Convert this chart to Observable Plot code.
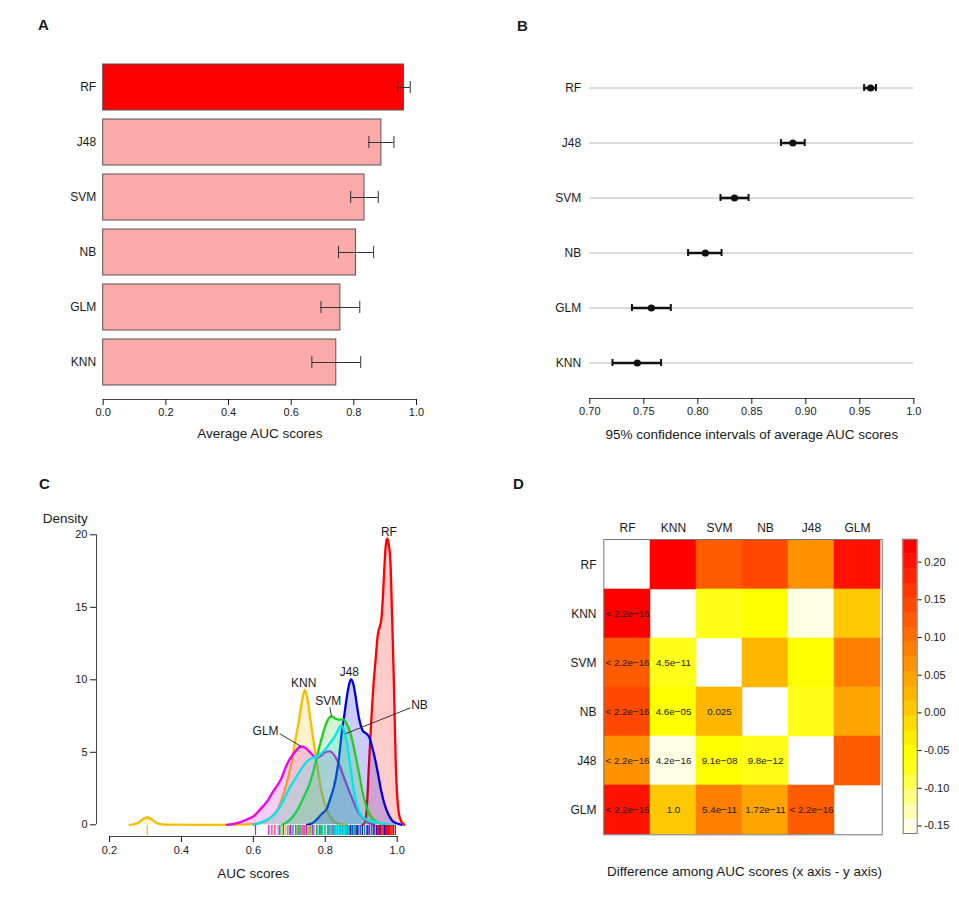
<!DOCTYPE html>
<html>
<head>
<meta charset="utf-8">
<script src="https://cdn.jsdelivr.net/npm/d3@7"></script>
<script src="https://cdn.jsdelivr.net/npm/@observablehq/plot@0.6"></script>
<style>
  body { margin: 0; background: #fff; }
  #fig { position: relative; width: 959px; height: 911px; background: #fff; overflow: hidden;
         font-family: "Liberation Sans", Arial, Helvetica, sans-serif; color: #1a1a1a; }
  #fig > svg { position: absolute; }
  .tag { position: absolute; font-weight: bold; font-size: 15px; line-height: 16px; }
</style>
</head>
<body>
<div id="fig"></div>
<script>
// ---------- classifier summaries (panels A and B) ----------
const models   = ["RF", "J48", "SVM", "NB", "GLM", "KNN"];
const meanAUC  = [0.960, 0.888, 0.834, 0.807, 0.757, 0.744];
const sdAUC    = [0.020, 0.040, 0.044, 0.056, 0.062, 0.078];
const ciLow    = [0.954, 0.877, 0.821, 0.791, 0.739, 0.721];
const ciHigh   = [0.965, 0.899, 0.847, 0.822, 0.775, 0.766];
const ticksA   = [0, 0.2, 0.4, 0.6, 0.8, 1.0];
const ticksB   = [0.70, 0.75, 0.80, 0.85, 0.90, 0.95, 1.0];
const tickLabelsB = ["0.70", "0.75", "0.80", "0.85", "0.90", "0.95", "1.0"];

// ---------- AUC density curves (panel C): [AUC, density] ----------
const densKNN = [[0.256,0],[0.275,0.08],[0.29,0.33],[0.305,0.52],[0.32,0.33],[0.335,0.08],[0.355,0.01],[0.45,0],[0.55,0.01],[0.60,0.05],[0.63,0.2],[0.652,0.6],[0.666,1.0],[0.685,2.2],[0.70,3.6],[0.708,4.5],[0.715,5.6],[0.727,7.2],[0.735,8.5],[0.743,9.3],[0.751,8.6],[0.759,7.2],[0.766,6.0],[0.773,4.9],[0.787,2.6],[0.805,1.0],[0.82,0.35],[0.84,0.05],[0.86,0]];
const densGLM = [[0.527,0],[0.56,0.15],[0.585,0.4],[0.601,0.6],[0.62,1.1],[0.638,1.6],[0.655,2.3],[0.676,3.1],[0.694,4.2],[0.703,4.6],[0.718,5.1],[0.733,5.4],[0.745,5.3],[0.754,5.1],[0.765,4.8],[0.776,4.62],[0.79,4.8],[0.80,5.0],[0.812,5.06],[0.825,4.8],[0.838,4.2],[0.85,3.4],[0.862,2.6],[0.875,1.8],[0.885,1.2],[0.897,0.7],[0.908,0.4],[0.92,0.15],[0.936,0]];
const densRF  = [[0.903,0],[0.911,0.2],[0.915,1.0],[0.921,3.9],[0.927,6.8],[0.933,9.3],[0.9397,11.3],[0.946,13.1],[0.952,13.7],[0.956,14.2],[0.96,15.6],[0.964,17.6],[0.968,19.2],[0.972,19.75],[0.976,19.4],[0.981,18.2],[0.986,14.2],[0.9907,9.9],[0.996,4.2],[1.0005,1.8],[1.0046,0.8],[1.011,0.25],[1.02,0]];
const densJ48 = [[0.749,0],[0.765,0.12],[0.778,0.4],[0.79,0.75],[0.805,1.15],[0.815,1.9],[0.824,2.6],[0.832,3.6],[0.838,4.6],[0.847,6.6],[0.852,7.4],[0.858,8.5],[0.864,9.4],[0.871,10.02],[0.878,9.7],[0.884,8.9],[0.89,7.9],[0.896,7.1],[0.904,6.5],[0.916,6.25],[0.922,6.05],[0.93,5.4],[0.937,4.7],[0.946,3.6],[0.955,2.4],[0.965,1.4],[0.975,0.75],[0.99,0.2],[1.012,0]];
const densSVM = [[0.68,0],[0.70,0.3],[0.722,1.0],[0.74,1.9],[0.756,2.8],[0.768,3.8],[0.777,4.7],[0.787,5.7],[0.80,6.8],[0.81,7.35],[0.817,7.48],[0.826,7.35],[0.838,7.25],[0.85,7.27],[0.86,6.95],[0.87,6.3],[0.884,4.8],[0.895,3.4],[0.905,2.1],[0.915,1.2],[0.925,0.65],[0.94,0.25],[0.955,0.08],[0.965,0]];
const densNB  = [[0.601,0],[0.625,0.2],[0.648,0.5],[0.665,0.9],[0.684,1.7],[0.70,2.5],[0.722,3.4],[0.737,4.0],[0.75,4.4],[0.763,4.6],[0.777,4.7],[0.79,4.95],[0.80,5.2],[0.812,5.6],[0.824,6.0],[0.835,6.5],[0.844,6.85],[0.852,6.5],[0.861,5.5],[0.870,4.0],[0.88,2.3],[0.89,1.2],[0.90,0.65],[0.915,0.35],[0.94,0.18],[0.965,0.07],[0.99,0]];

// individual AUC scores shown as a rug under the curves
const rugKNN = [0.305,0.652,0.668,0.681,0.69,0.70,0.706,0.712,0.718,0.722,0.727,0.731,0.735,0.738,0.741,0.744,0.747,0.75,0.753,0.757,0.762,0.768,0.775,0.785,0.80,0.82];
const rugGLM = [0.606,0.643,0.651,0.66,0.672,0.684,0.695,0.703,0.71,0.718,0.725,0.73,0.735,0.741,0.748,0.756,0.765,0.776,0.79,0.80,0.808,0.813,0.819,0.826,0.834,0.845,0.858,0.872,0.89];
const rugRF  = [0.918,0.93,0.938,0.944,0.948,0.952,0.955,0.958,0.961,0.964,0.966,0.968,0.97,0.972,0.974,0.976,0.978,0.98,0.983,0.986,0.99,0.995];
const rugJ48 = [0.785,0.808,0.822,0.832,0.841,0.848,0.854,0.859,0.863,0.867,0.87,0.873,0.876,0.879,0.882,0.886,0.891,0.897,0.903,0.909,0.916,0.922,0.928,0.935,0.943,0.952,0.965];
const rugSVM = [0.70,0.726,0.745,0.758,0.768,0.777,0.785,0.792,0.799,0.806,0.812,0.817,0.822,0.828,0.834,0.84,0.846,0.852,0.858,0.865,0.873,0.882,0.895,0.91];
const rugNB  = [0.65,0.676,0.695,0.71,0.722,0.733,0.745,0.756,0.768,0.78,0.791,0.80,0.81,0.818,0.825,0.831,0.836,0.841,0.845,0.849,0.853,0.858,0.866,0.878,0.895,0.93];

// ---------- pairwise comparison (panel D) ----------
const heatOrder = ["RF", "KNN", "SVM", "NB", "J48", "GLM"];
// lower triangle, row by row from KNN: difference (column model - row model)
const diffLower = [
  [0.215],
  [0.125, -0.080],
  [0.150, -0.062, 0.027],
  [0.072, -0.143, -0.053, -0.075],
  [0.203, -0.002, 0.078, 0.050, 0.131]
];
const pLower = [
  ["< 2.2e\u221216"],
  ["< 2.2e\u221216", "4.5e\u221211"],
  ["< 2.2e\u221216", "4.6e\u221205", "0.025"],
  ["< 2.2e\u221216", "4.2e\u221216", "9.1e\u221208", "9.8e\u221212"],
  ["< 2.2e\u221216", "1.0", "5.4e\u221211", "1.72e\u221211", "< 2.2e\u221216"]
];
const barTicks = [-0.15, -0.10, -0.05, 0.00, 0.05, 0.10, 0.15, 0.20];

// ---------- styling ----------
const font = "'Liberation Sans', Arial, Helvetica, sans-serif";
const baseStyle = {fontFamily: font, fontSize: "11px", color: "#1a1a1a", background: "transparent", overflow: "visible"};
const lineColor = {RF: "#FF0000", J48: "#0000E6", SVM: "#22CC22", NB: "#00E5EE", GLM: "#EE00EE", KNN: "#F5BE00"};
const drawOrder = ["KNN", "GLM", "RF", "J48", "SVM", "NB"];
const curves = {KNN: densKNN, GLM: densGLM, RF: densRF, J48: densJ48, SVM: densSVM, NB: densNB};
const rugs   = {KNN: rugKNN, GLM: rugGLM, RF: rugRF, J48: rugJ48, SVM: rugSVM, NB: rugNB};
// heat palette, low (pale) to high (red), 20 equal bins
const heatLo = -0.16, heatHi = 0.23, heatBins = 20;
const heatPalette = ["#FFFFE6","#FFFFB3","#FFFF80","#FFFF4D","#FFFF1A","#FFFF00","#FFED00","#FFDB00","#FFC800","#FFB600",
                     "#FFA400","#FF9200","#FF8000","#FF6D00","#FF5B00","#FF4900","#FF3600","#FF2400","#FF1200","#FF0000"];
const heatStep = (heatHi - heatLo) / heatBins;
const heatThresholds = d3.range(1, heatBins).map(i => heatLo + i * heatStep);
const heatColor = {type: "threshold", domain: heatThresholds, range: heatPalette};

const fig = document.getElementById("fig");
function place(svg, left, top) { svg.style.left = left + "px"; svg.style.top = top + "px"; fig.appendChild(svg); }
function tag(text, left, top) { const d = document.createElement("div"); d.className = "tag"; d.textContent = text;
  d.style.left = left + "px"; d.style.top = top + "px"; fig.appendChild(d); }

const rows = models.map((m, i) => ({model: m, mean: meanAUC[i], lo: meanAUC[i] - sdAUC[i], hi: meanAUC[i] + sdAUC[i],
  ciLo: ciLow[i], ciHi: ciHigh[i]}));
const best = models[d3.maxIndex(meanAUC)];

// ---------- A: average AUC with error bars ----------
const panelA = Plot.plot({
  width: 480, height: 460,
  marginLeft: 102.7, marginRight: 64, marginTop: 50, marginBottom: 61,
  style: baseStyle,
  x: {domain: [0, 1]},
  y: {type: "band", domain: models, range: [53.4, 395.6], padding: 0.168},
  marks: [
    Plot.barX(rows, {filter: d => d.model === best, x: "mean", y: "model", fill: "#FF0000", stroke: "#555", strokeWidth: 1}),
    Plot.barX(rows, {filter: d => d.model !== best, x: "mean", y: "model", fill: "#FBAAAA", stroke: "#555", strokeWidth: 1}),
    Plot.ruleY(rows, {y: "model", x1: "lo", x2: "hi", stroke: "#333", strokeWidth: 1}),
    Plot.tickX(rows, {x: "lo", y: "model", stroke: "#333", strokeWidth: 1, insetTop: 17, insetBottom: 17}),
    Plot.tickX(rows, {x: "hi", y: "model", stroke: "#333", strokeWidth: 1, insetTop: 17, insetBottom: 17}),
    Plot.frame({anchor: "bottom", stroke: "#444"}),
    Plot.axisX({ticks: ticksA, tickFormat: d3.format(".1f"), tickSize: 6, tickPadding: 3, label: null, fontSize: 11}),
    Plot.axisY({tickSize: 0, tickPadding: 7, label: null, fontSize: 12}),
    Plot.text(["Average AUC scores"], {frameAnchor: "bottom", dy: 38, fontSize: 13.5})
  ]
});
place(panelA, 0, 0);

// ---------- B: 95% confidence intervals ----------
const panelB = Plot.plot({
  width: 479, height: 460,
  marginLeft: 109.3, marginRight: 45.7, marginTop: 50, marginBottom: 62,
  style: baseStyle,
  x: {domain: [0.70, 1.0]},
  y: {type: "band", domain: models, range: [59.15, 389.85], padding: 0},
  marks: [
    Plot.ruleY(rows, {y: "model", stroke: "#b8b8b8", strokeWidth: 1}),
    Plot.ruleY(rows, {y: "model", x1: "ciLo", x2: "ciHi", stroke: "#111", strokeWidth: 2.6}),
    Plot.tickX(rows, {x: "ciLo", y: "model", stroke: "#111", strokeWidth: 2, insetTop: 24, insetBottom: 24}),
    Plot.tickX(rows, {x: "ciHi", y: "model", stroke: "#111", strokeWidth: 2, insetTop: 24, insetBottom: 24}),
    Plot.dot(rows, {x: "mean", y: "model", r: 3.6, fill: "#111"}),
    Plot.frame({anchor: "bottom", stroke: "#444"}),
    Plot.axisX({ticks: ticksB, tickFormat: d => tickLabelsB[ticksB.indexOf(d)], tickSize: 6, tickPadding: 3, label: null, fontSize: 11}),
    Plot.axisY({tickSize: 0, tickPadding: 8.6, label: null, fontSize: 12}),
    Plot.text(["95% confidence intervals of average AUC scores"], {frameAnchor: "bottom", dy: 40, fontSize: 13.5})
  ]
});
place(panelB, 480, 0);

// ---------- C: density of AUC scores ----------
const curveNotes = [
  {model: "RF",  x: 0.977, y: 20.2},
  {model: "J48", x: 0.867, y: 10.55},
  {model: "KNN", x: 0.740, y: 9.75},
  {model: "SVM", x: 0.808, y: 8.5},
  {model: "NB",  x: 1.062, y: 8.25},
  {model: "GLM", x: 0.634, y: 6.45}
];
const leaders = [
  {x1: 0.6736, y1: 6.28, x2: 0.733, y2: 5.4},
  {x1: 0.8126, y1: 8.11, x2: 0.8173, y2: 7.47},
  {x1: 1.037,  y1: 8.07, x2: 0.8563, y2: 6.28}
];
const curveMarks = drawOrder.flatMap(m => [
  Plot.areaY(curves[m], {x: d => d[0], y: d => d[1], fill: lineColor[m], fillOpacity: 0.2, curve: "monotone-x"}),
  Plot.lineY(curves[m], {x: d => d[0], y: d => d[1], stroke: lineColor[m], strokeWidth: 2.3, curve: "monotone-x"})
]);
const rugMarks = drawOrder.map(m =>
  Plot.ruleX(rugs[m], {x: d => d, stroke: lineColor[m], strokeWidth: 1.2, insetTop: 350, insetBottom: 1})
);
const panelC = Plot.plot({
  width: 480, height: 456,
  marginLeft: 109, marginRight: 83.3, marginTop: 20, marginBottom: 75,
  style: baseStyle,
  x: {domain: [0.2, 1.0]},
  y: {domain: [0, 20], range: [369.3, 79.3]},
  marks: [
    ...curveMarks,
    ...rugMarks,
    Plot.link(leaders, {x1: "x1", y1: "y1", x2: "x2", y2: "y2", stroke: "#333", strokeWidth: 1}),
    Plot.text(curveNotes, {x: "x", y: "y", text: "model", fontSize: 12, fill: "#1a1a1a"}),
    Plot.frame({anchor: "bottom", stroke: "#444"}),
    Plot.axisX({ticks: [0.2, 0.4, 0.6, 0.8, 1.0], tickFormat: d3.format(".1f"), tickSize: 6, tickPadding: 4, label: null, fontSize: 11}),
    Plot.ruleX([0.2], {y1: 0, y2: 20, dx: -13, stroke: "#444"}),
    Plot.axisY({ticks: [0, 5, 10, 15, 20], tickSize: 6, tickPadding: 3, dx: -13, label: null, fontSize: 11}),
    Plot.text(["AUC scores"], {frameAnchor: "bottom", dy: 41.3, fontSize: 13.5}),
    Plot.text(["Density"], {frameAnchor: "top-left", textAnchor: "start", dx: -66.7, dy: 38.3, fontSize: 13.5})
  ]
});
place(panelC, 0, 455);

// ---------- D: pairwise differences with p-values ----------
const cells = [];
pLower.forEach((row, i) => row.forEach((p, j) => {
  const r = heatOrder[i + 1], c = heatOrder[j], v = diffLower[i][j];
  cells.push({row: r, col: c, value: v, p});
  cells.push({row: c, col: r, value: v, p: null}); // mirrored above the diagonal
}));
const panelD = Plot.plot({
  width: 479, height: 456,
  marginLeft: 123.3, marginRight: 77.3, marginTop: 84, marginBottom: 76.7,
  style: baseStyle,
  x: {type: "band", domain: heatOrder, padding: 0},
  y: {type: "band", domain: heatOrder, padding: 0},
  color: heatColor,
  marks: [
    Plot.cell(cells, {x: "col", y: "row", fill: "value", stroke: "value", strokeWidth: 0.6}),
    Plot.text(cells.filter(d => d.p), {x: "col", y: "row", text: "p", fontSize: 9.8, fill: "#1a1a1a"}),
    Plot.frame({stroke: "#777"}),
    Plot.axisX({anchor: "top", tickSize: 0, tickPadding: 8, label: null, fontSize: 12}),
    Plot.axisY({tickSize: 0, tickPadding: 7.3, label: null, fontSize: 12}),
    Plot.text(["Difference among AUC scores (x axis - y axis)"], {frameAnchor: "bottom", dx: 1.5, dy: 41.4, fontSize: 13.5})
  ]
});
place(panelD, 480, 455);

// colour key for panel D
const keyBands = d3.range(heatBins).map(i => ({y1: heatLo + i * heatStep, y2: heatLo + (i + 1) * heatStep, mid: heatLo + (i + 0.5) * heatStep}));
const colorKey = Plot.plot({
  width: 69, height: 315,
  marginLeft: 12.7, marginRight: 42.3, marginTop: 9, marginBottom: 12,
  style: baseStyle,
  y: {domain: [heatLo, heatHi]},
  color: heatColor,
  marks: [
    Plot.rect(keyBands, {y1: "y1", y2: "y2", fill: "mid", stroke: "mid", strokeWidth: 0.4}),
    Plot.frame({stroke: "#777"}),
    Plot.axisY({anchor: "right", ticks: barTicks, tickFormat: d => d3.format(".2f")(d).replace("\u2212", "-"),
                tickSize: 4, tickPadding: 3, label: null, fontSize: 11})
  ]
});
place(colorKey, 890, 530);

tag("A", 38, 17);
tag("B", 517, 18);
tag("C", 39, 476);
tag("D", 513, 476);
</script>
</body>
</html>
